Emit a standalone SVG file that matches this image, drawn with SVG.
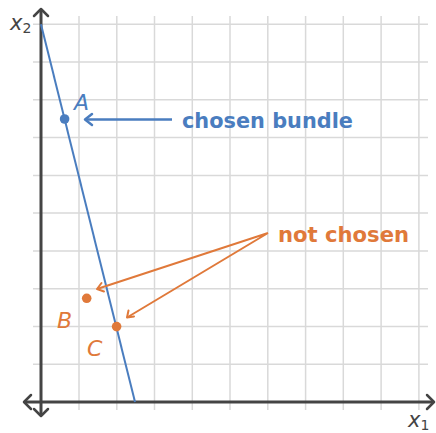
<svg xmlns="http://www.w3.org/2000/svg" width="436" height="433" viewBox="0 0 436 433">
<defs>
<style>
.grid{stroke:#d9d9d9;stroke-width:1.5;fill:none}
.axis{stroke:#444;stroke-width:3;fill:none}
.ah{stroke:#444;stroke-width:2.5;fill:none;stroke-linecap:round;stroke-linejoin:round}
.blue{stroke:#4a7dbf;fill:none;stroke-width:2}
.org{stroke:#e0793a;fill:none;stroke-width:2}
.lbl{font-family:"DejaVu Sans",sans-serif}
.pt{font-family:"DejaVu Sans",sans-serif;font-style:italic;font-size:22px}
.ax{font-family:"DejaVu Sans",sans-serif;font-style:italic;font-size:21px;fill:#444}
</style>
</defs>
<rect width="436" height="433" fill="#fff"/>
<g id="grid" class="grid">
<path d="M79,16V410M116.8,16V410M154.5,16V410M192.3,16V410M230,16V410M267.8,16V410M305.6,16V410M343.3,16V410M381.1,16V410M418.9,16V410"/>
<path d="M33,24.3H428M33,62H428M33,99.8H428M33,137.6H428M33,175.4H428M33,213.1H428M33,250.9H428M33,288.7H428M33,326.4H428M33,364.2H428"/>
</g>
<g id="axes">
<path class="axis" d="M41,9V416M24,402H434"/>
<path class="ah" d="M34,16L41,9L48,16M34,409L41,416L48,409M31,395L24,402L31,409M427,395L434,402L427,409"/>
<text class="ax" x="10" y="30">x<tspan font-size="14" dy="3" font-style="normal">2</tspan></text>
<text class="ax" x="408" y="427">x<tspan font-size="14" dy="3" font-style="normal">1</tspan></text>
</g>
<g id="budget-line">
<path class="blue" d="M41,24.3L135,402"/>
</g>
<g id="connectors">
<path d="M172,119.5H85" stroke="#4a7dbf" stroke-width="2.5" fill="none"/>
<path d="M92,114L85,119.5L92,125" stroke="#4a7dbf" stroke-width="2.5" fill="none" stroke-linecap="round" stroke-linejoin="round"/>
<path class="org" d="M268,233L97,289M268,233L127,317.5"/>
<path d="M101.5,283L97,289L104,291.5M128.5,310.5L127,317.5L134,316.5" stroke="#e0793a" stroke-width="2" fill="none" stroke-linecap="round" stroke-linejoin="round"/>
</g>
<g id="A">
<circle cx="64.6" cy="119" r="4.8" fill="#4a7dbf"/>
<text class="pt" x="74" y="110" fill="#4a7dbf">A</text>
</g>
<g id="B">
<circle cx="86.7" cy="298.3" r="4.8" fill="#e0793a"/>
<text class="pt" x="57" y="328" fill="#e0793a">B</text>
</g>
<g id="C">
<circle cx="116.6" cy="326.6" r="4.8" fill="#e0793a"/>
<text class="pt" x="87" y="356" fill="#e0793a">C</text>
</g>
<g id="chosen-label">
<text class="lbl" x="182" y="128" font-size="22" font-weight="bold" fill="#4a7dbf" textLength="171" lengthAdjust="spacingAndGlyphs">chosen bundle</text>
</g>
<g id="not-chosen-label">
<text class="lbl" x="278" y="242" font-size="22" font-weight="bold" fill="#e0793a" textLength="131" lengthAdjust="spacingAndGlyphs">not chosen</text>
</g>
</svg>
